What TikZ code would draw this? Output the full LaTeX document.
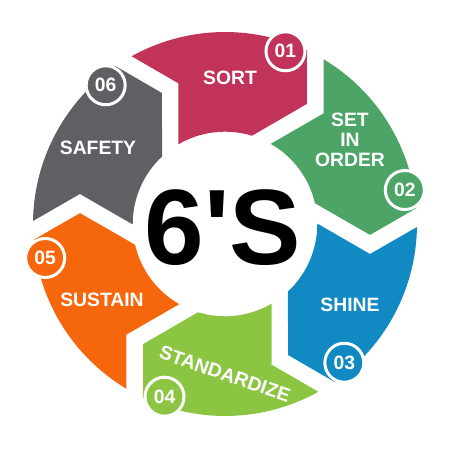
\documentclass[tikz,border=0pt]{standalone}
\usepackage{fontspec}
\setmainfont{Liberation Sans}
\definecolor{sortc}{RGB}{193,51,89}
\definecolor{orderc}{RGB}{76,165,103}
\definecolor{shinec}{RGB}{17,137,194}
\definecolor{standc}{RGB}{140,197,66}
\definecolor{sustc}{RGB}{246,102,12}
\definecolor{safec}{RGB}{95,96,100}
\begin{document}
\begin{tikzpicture}[x=0.02cm, y=0.02cm]
\tikzstyle{num} = [circle, draw=white, line width=1.7pt, minimum size=0.78cm, inner sep=0pt, text=white, font=\bfseries\fontsize{11}{13}\selectfont]
\tikzstyle{lbl} = [text=white, align=center, font=\bfseries\fontsize{11}{11.4}\selectfont]
\useasboundingbox (-225,-226) rectangle (225,224);
\fill[sortc] (119.1:192) arc[start angle=119.1, end angle=64.7, radius=3.84cm] -- (55.7:145.4) -- (73:92.3) arc[start angle=73, end angle=120.3, radius=1.846cm] -- (108.3:148.1) -- cycle;
\fill[orderc] (59.1:192) arc[start angle=59.1, end angle=4.7, radius=3.84cm] -- (-4.3:145.4) -- (13:92.3) arc[start angle=13, end angle=60.3, radius=1.846cm] -- (48.3:148.1) -- cycle;
\fill[shinec] (-0.9:192) arc[start angle=-0.9, end angle=-55.3, radius=3.84cm] -- (-64.3:145.4) -- (-47:92.3) arc[start angle=-47, end angle=0.3, radius=1.846cm] -- (-11.7:148.1) -- cycle;
\fill[standc] (-60.9:192) arc[start angle=-60.9, end angle=-115.3, radius=3.84cm] -- (-124.3:145.4) -- (-107:92.3) arc[start angle=-107, end angle=-59.7, radius=1.846cm] -- (-71.7:148.1) -- cycle;
\fill[sustc] (-120.9:192) arc[start angle=-120.9, end angle=-175.3, radius=3.84cm] -- (-184.3:145.4) -- (-167:92.3) arc[start angle=-167, end angle=-119.7, radius=1.846cm] -- (-131.7:148.1) -- cycle;
\fill[safec] (-180.9:192) arc[start angle=-180.9, end angle=-235.3, radius=3.84cm] -- (-244.3:145.4) -- (-227:92.3) arc[start angle=-227, end angle=-179.7, radius=1.846cm] -- (-191.7:148.1) -- cycle;
\node[num, fill=sortc] at (70.7:183) (n_1) {01};
\node[num, fill=orderc] at (10.7:183) (n_2) {02};
\node[num, fill=shinec] at (-49.3:183) (n_3) {03};
\node[num, fill=standc] at (-109.3:183) (n_4) {04};
\node[num, fill=sustc] at (-169.3:183) (n_5) {05};
\node[num, fill=safec] at (130.7:183) (n_6) {06};
\node[lbl] at (5, 146) (l_1) {SORT};
\node[lbl] at (125, 84) (l_2) {SET\\IN\\ORDER};
\node[lbl] at (125, -81) (l_3) {SHINE};
\node[lbl, rotate=-19] at (0, -150) (l_4) {STANDARDIZE};
\node[lbl] at (-123, -76) (l_5) {SUSTAIN};
\node[lbl] at (-127, 76) (l_6) {SAFETY};
\node[font=\bfseries\fontsize{61}{61}\selectfont] at (-2, -4) (title) {6\textquotesingle S};
\end{tikzpicture}
\end{document}
